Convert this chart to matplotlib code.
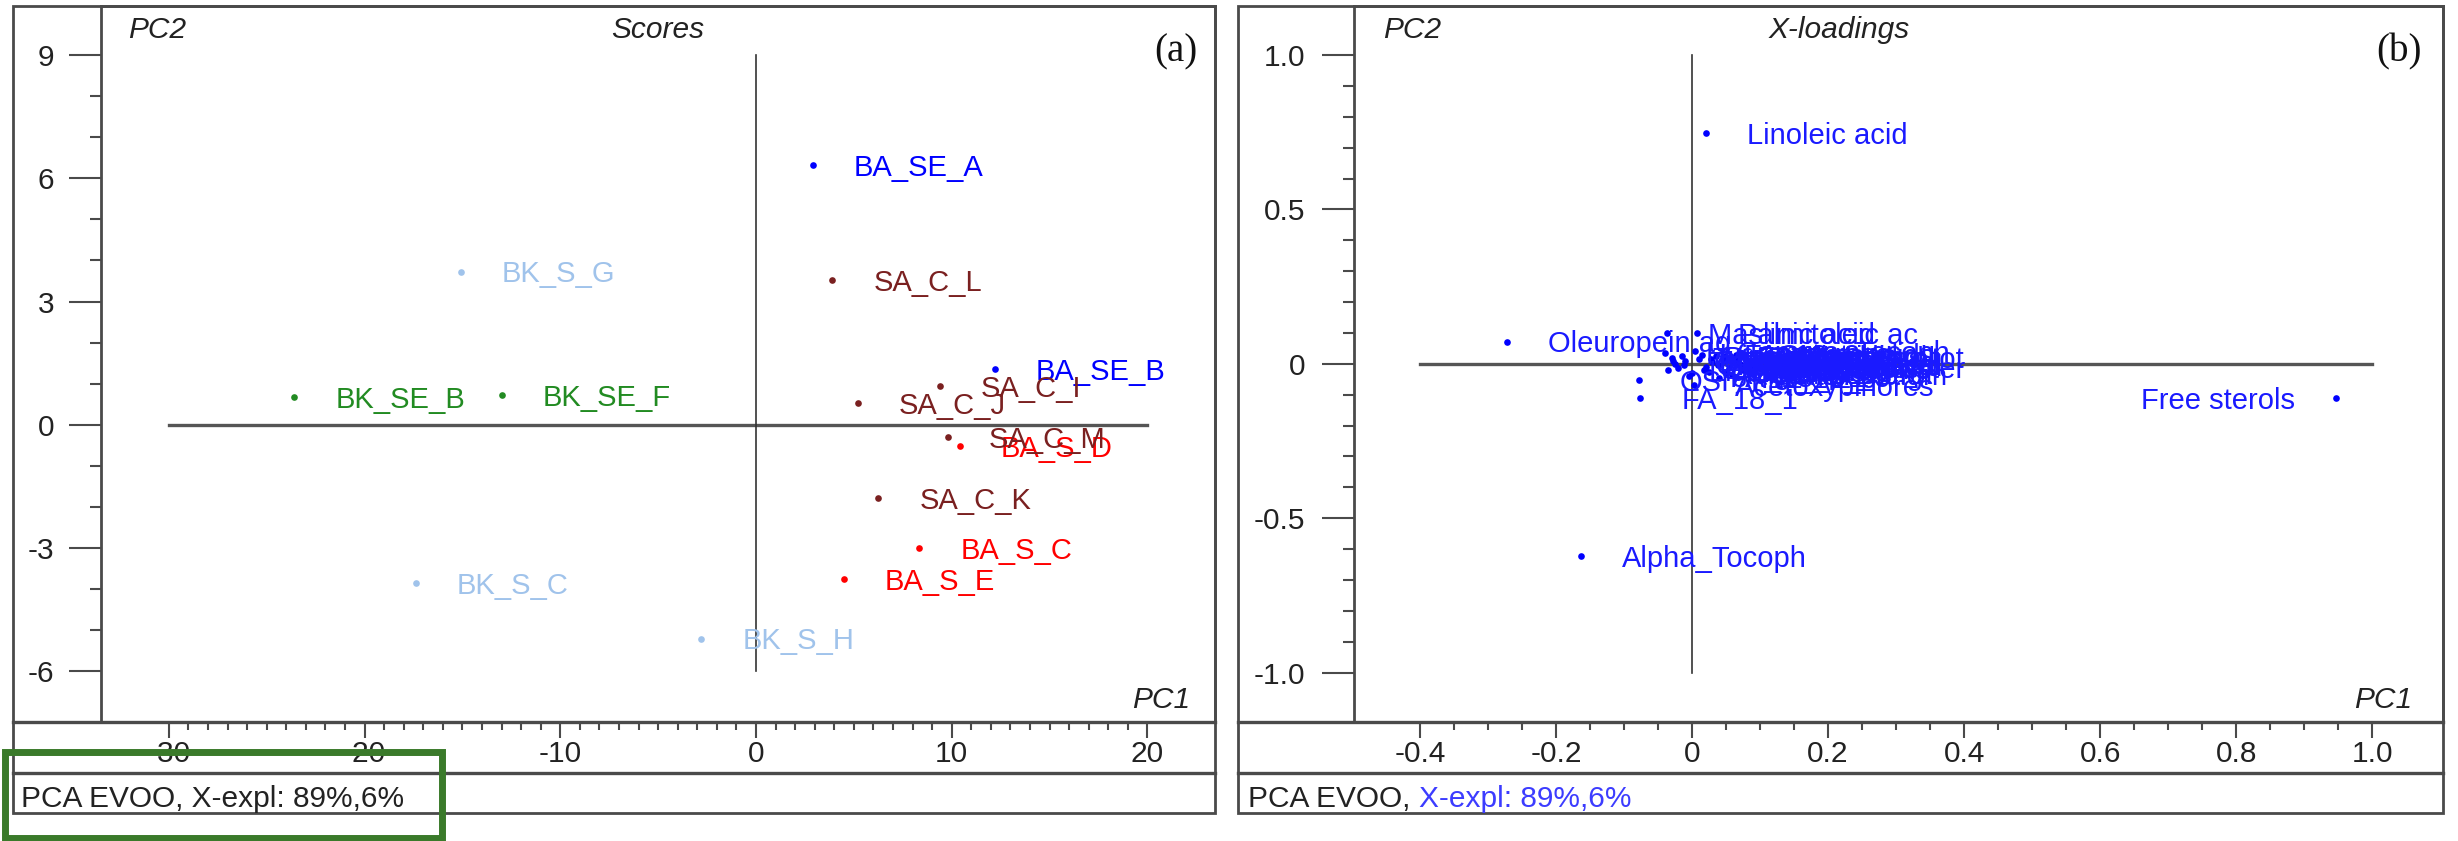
import matplotlib
matplotlib.use('Agg')
import matplotlib.pyplot as plt
from matplotlib.patches import Rectangle
from matplotlib.lines import Line2D
from matplotlib.text import Annotation
from matplotlib.ticker import FixedLocator, FixedFormatter

plt.rcParams['font.family'] = ['Liberation Sans', 'DejaVu Sans']
plt.rcParams['axes.unicode_minus'] = False

# ---------------- data: (a) scores ----------------
score_names = ["BA_SE_A", "BA_SE_B", "BA_S_C", "BA_S_D", "BA_S_E",
               "SA_C_I", "SA_C_J", "SA_C_K", "SA_C_L", "SA_C_M",
               "BK_SE_B", "BK_SE_F", "BK_S_C", "BK_S_G", "BK_S_H"]
score_pc1 = [2.9, 12.2, 8.35, 10.4, 4.5,
             9.4, 5.2, 6.25, 3.9, 9.8,
             -23.6, -13.0, -17.4, -15.1, -2.8]
score_pc2 = [6.31, 1.35, -3.0, -0.52, -3.76,
             0.94, 0.52, -1.79, 3.52, -0.30,
             0.67, 0.73, -3.86, 3.73, -5.2]
score_group = ["BA_SE", "BA_SE", "BA_S", "BA_S", "BA_S",
               "SA_C", "SA_C", "SA_C", "SA_C", "SA_C",
               "BK_SE", "BK_SE", "BK_S", "BK_S", "BK_S"]
group_colors = {"BA_SE": "#0000ff", "BA_S": "#ff0000", "SA_C": "#7a2020",
                "BK_SE": "#228b22", "BK_S": "#a0c3eb"}
score_xticks = [-30, -20, -10, 0, 10, 20]
score_xticklabels = ["-30", "-20", "-10", "0", "10", "20"]
score_yticks = [-6, -3, 0, 3, 6, 9]
score_yticklabels = ["-6", "-3", "0", "3", "6", "9"]

# ---------------- data: (b) X-loadings ----------------
load_names = ["Linoleic acid", "Oleuropein ag", "Free sterols", "Alpha_Tocoph",
              "FA_18_1", "OSI", "Maslinic acid", "Palmitoleic ac",
              "Hydroxytyrosol", "Tyrosol", "Oleacein", "Oleocanthal",
              "Pinoresinol", "Acetoxypinores", "Ligstroside ag", "Luteolin",
              "Apigenin", "Vanillic acid", "Total phenols", "Squalene",
              "Beta_Sitoster", "Campesterol", "Stigmasterol", "FA_16_0",
              "FA_18_0", "FA_18_2", "FA_18_3", "Peroxide val",
              "K232", "Free acidity", "Chlorophylls", "Carotenoids",
              "Oleic acid", "Stearic acid", "Gamma_Tocoph", "Erythrodiol",
              "Uvaol", "Oleanolic acid", "Cycloartenol", "Delta7_Stigm",
              "K270", "Delta_K", "Aldehydes tot", "Esters total"]
load_pc1 = [0.021, -0.272, 0.947, -0.164,
            -0.076, -0.078, -0.037, 0.007,
            -0.040, -0.030, -0.025, -0.020,
            -0.015, 0.003, -0.035, -0.010,
            0.000, 0.010, 0.020, 0.030,
            0.085, 0.050, 0.060, 0.040,
            -0.005, 0.015, 0.025, 0.070,
            0.045, 0.035, 0.055, 0.065,
            -0.028, -0.012, 0.005, 0.018,
            0.028, 0.038, 0.048, 0.058,
            0.068, 0.075, 0.080, 0.090]
load_pc2 = [0.747, 0.072, -0.112, -0.622,
            -0.110, -0.052, 0.100, 0.100,
            0.035, 0.020, 0.000, -0.015,
            0.025, -0.068, -0.020, 0.010,
            -0.030, 0.015, -0.010, 0.005,
            -0.010, -0.030, 0.020, -0.045,
            -0.040, 0.030, -0.025, 0.000,
            0.010, 0.025, -0.015, 0.030,
            0.010, -0.005, 0.040, -0.020,
            0.015, -0.005, 0.025, -0.035,
            0.012, -0.020, 0.020, -0.002]
load_xticks = [-0.4, -0.2, 0.0, 0.2, 0.4, 0.6, 0.8, 1.0]
load_xticklabels = ["-0.4", "-0.2", "0", "0.2", "0.4", "0.6", "0.8", "1.0"]
load_yticks = [-1.0, -0.5, 0.0, 0.5, 1.0]
load_yticklabels = ["-1.0", "-0.5", "0", "0.5", "1.0"]

footer = "PCA EVOO, "
footer_expl = "X-expl: 89%,6%"

# ---------------- layout ----------------
W, H, DPI = 2458, 841, 100
fig = plt.figure(figsize=(W / DPI, H / DPI), dpi=DPI)
fig.patch.set_facecolor('white')

FRAME = '#4a4a4a'
TXT = '#222222'
FS = 21.5


def rect(x0, y0, x1, y1):
    return [x0 / W, 1 - y1 / H, (x1 - x0) / W, (y1 - y0) / H]


def fx(x):
    return x / W


def fy(y):
    return 1 - y / H


def hline(x0, x1, y, lw=2.0):
    fig.add_artist(Line2D([fx(x0), fx(x1)], [fy(y), fy(y)], color=FRAME, lw=lw,
                          transform=fig.transFigure))


def frame_box(x0, y0, x1, y1):
    fig.add_artist(Rectangle((fx(x0), fy(y1)), (x1 - x0) / W, (y1 - y0) / H,
                             fill=False, ec=FRAME, lw=2.0, transform=fig.transFigure))


def style_axes(ax, xt, xtl, yt, ytl, xminor, yminor, ypad):
    for s in ax.spines.values():
        s.set_color(FRAME)
        s.set_linewidth(2.0)
    ax.xaxis.set_major_locator(FixedLocator(xt))
    ax.xaxis.set_major_formatter(FixedFormatter(xtl))
    ax.yaxis.set_major_locator(FixedLocator(yt))
    ax.yaxis.set_major_formatter(FixedFormatter(ytl))
    ax.xaxis.set_minor_locator(FixedLocator(xminor))
    ax.yaxis.set_minor_locator(FixedLocator(yminor))
    ax.tick_params(axis='x', which='major', direction='out', length=11.5, width=1.5,
                   pad=1.5, labelsize=FS, colors=FRAME, labelcolor=TXT)
    ax.tick_params(axis='x', which='minor', direction='out', length=5.5, width=1.5,
                   colors=FRAME)
    ax.tick_params(axis='y', which='major', direction='out', length=23, width=1.5,
                   pad=ypad, labelsize=FS, colors=FRAME, labelcolor=TXT)
    ax.tick_params(axis='y', which='minor', direction='out', length=8, width=1.5,
                   colors=FRAME)


def frange(a, b, step):
    n = int(round((b - a) / step))
    return [round(a + i * step, 6) for i in range(n + 1)]


# ---- panel (a) ----
ax1 = fig.add_axes(rect(101, 6, 1215, 722))
ax1.set_xlim(-33.47, 23.45)
ax1.set_ylim(-7.23, 10.19)
style_axes(ax1, score_xticks, score_xticklabels, score_yticks, score_yticklabels,
           frange(min(score_xticks), max(score_xticks), 1),
           frange(min(score_yticks), max(score_yticks), 1), 10.5)
ax1.plot([min(score_xticks), max(score_xticks)], [0, 0], color='#555555', lw=2.4, zorder=1)
ax1.plot([0, 0], [min(score_yticks), max(score_yticks)], color='#333333', lw=1.2, zorder=1)
for n, x, y, g in zip(score_names, score_pc1, score_pc2, score_group):
    c = group_colors[g]
    ax1.plot([x], [y], 'o', ms=4.8, color=c, mec='none', zorder=3)
    ax1.annotate(n, (x, y), xytext=(29.5, -7.7), textcoords='offset points',
                 ha='left', va='baseline', fontsize=21, color=c, zorder=4)

# ---- panel (b) ----
ax2 = fig.add_axes(rect(1354, 6, 2443, 722))
ax2.set_xlim(-0.497, 1.104)
ax2.set_ylim(-1.160, 1.159)
style_axes(ax2, load_xticks, load_xticklabels, load_yticks, load_yticklabels,
           frange(min(load_xticks), max(load_xticks), 0.05),
           frange(min(load_yticks), max(load_yticks), 0.1), 12)
ax2.plot([min(load_xticks), max(load_xticks)], [0, 0], color='#555555', lw=2.4, zorder=1)
ax2.plot([0, 0], [min(load_yticks), max(load_yticks)], color='#333333', lw=1.2, zorder=1)
for n, x, y in zip(load_names, load_pc1, load_pc2):
    ax2.plot([x], [y], 'o', ms=4.8, color='#0000ff', mec='none', zorder=3)
    right = x > 0.8
    ax2.annotate(n, (x, y), xytext=(-29.5 if right else 29.5, -7.7),
                 textcoords='offset points', ha='right' if right else 'left',
                 va='baseline', fontsize=21, color='#1a1aff', zorder=4)

# ---- frames & bottom rows ----
for (x0, x1) in [(13, 1215), (1238, 2443)]:
    frame_box(x0, 6, x1, 813)
    hline(x0, x1, 722, lw=2.4)
    hline(x0, x1, 773, lw=2.4)

# ---- panel texts ----
for (xl, xc, xr, title, tag, xpc1) in [(128, 658, 1197, 'Scores', '(a)', 1190),
                                        (1383, 1839, 2422, 'X-loadings', '(b)', 2412)]:
    fig.text(fx(xl), fy(30), 'PC2', ha='left', va='center', style='italic',
             fontsize=FS, color=TXT)
    fig.text(fx(xc), fy(30), title, ha='center', va='center', style='italic',
             fontsize=FS, color=TXT)
    fig.text(fx(xr), fy(52), tag, ha='right', va='center', fontsize=28, color='#111111',
             family=['Liberation Serif', 'DejaVu Serif'])
    fig.text(fx(xpc1), fy(708), 'PC1', ha='right', va='baseline', style='italic',
             fontsize=FS, color=TXT)

fig.text(fx(21), fy(807), footer + footer_expl, ha='left', va='baseline',
         fontsize=FS, color=TXT)
t1 = fig.text(fx(1248), fy(807), footer, ha='left', va='baseline',
              fontsize=FS, color=TXT)
fig.add_artist(Annotation(footer_expl, xy=(1, 0), xycoords=t1,
                          va='bottom', ha='left', fontsize=FS, color='#3c3cff'))

# ---- green highlight box ----
fig.add_artist(Rectangle((fx(5), fy(838)), (442 - 5) / W, (838 - 752) / H, fill=False,
                         ec='#3a7a2a', lw=5, transform=fig.transFigure, zorder=10))

fig.savefig('out.png', dpi=DPI, facecolor='white')
